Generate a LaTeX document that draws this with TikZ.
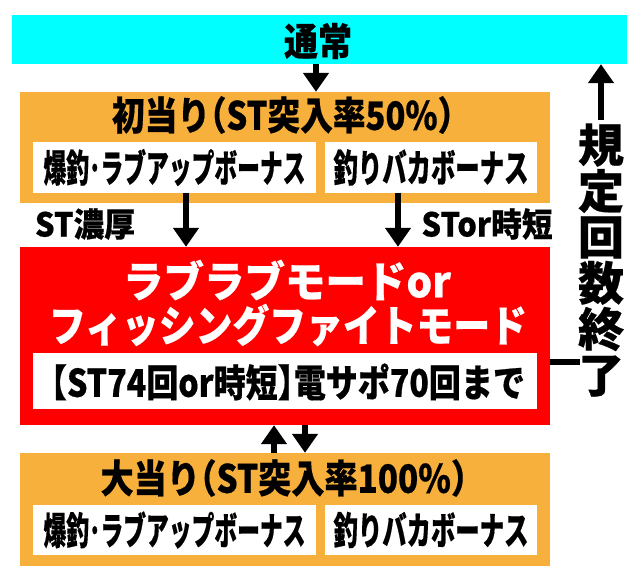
\documentclass[tikz,border=0pt]{standalone}
\usepackage{fontspec}
\setmainfont{Noto Sans CJK JP}[RawFeature=+halt, BoldFont={Noto Sans CJK JP Black}, BoldFeatures={FakeBold=0.5}]
\usetikzlibrary{arrows.meta}
\definecolor{cy}{HTML}{00FFFF}
\definecolor{org}{HTML}{F8B03C}
\definecolor{rd}{HTML}{FF0000}
\newcommand\fw[2]{\resizebox{#1}{\height}{#2}}
\newcommand\fs[1]{\fontsize{#1}{#1}\selectfont\bfseries}
\begin{document}
\begin{tikzpicture}[x=1pt,y=-1pt,
  blk/.style={rectangle, inner sep=0pt, draw=none},
  lbl/.style={inner sep=0pt, text=black},
  arr/.style={line width=6pt, -{Triangle[width=25pt,length=19pt]}}]
\useasboundingbox (0,0) rectangle (640,583);
\fill[white] (0,0) rectangle (640,583);
% boxes
\node[blk, fill=cy, minimum width=615pt, minimum height=49pt] (cyan) at (319.5,39.5) {};
\node[blk, fill=org, minimum width=530pt, minimum height=111pt] (o1) at (285,147.5) {};
\node[blk, fill=white, minimum width=283pt, minimum height=50pt] (w1a) at (174.5,167.5) {};
\node[blk, fill=white, minimum width=212pt, minimum height=50pt] (w1b) at (431,167.5) {};
\node[blk, fill=rd, minimum width=530pt, minimum height=178pt] (red) at (285,336) {};
\node[blk, fill=white, minimum width=504pt, minimum height=56pt] (win) at (285,381) {};
\node[blk, fill=org, minimum width=530pt, minimum height=113pt] (o2) at (285,509.5) {};
\node[blk, fill=white, minimum width=283pt, minimum height=50pt] (w2a) at (174.5,530) {};
\node[blk, fill=white, minimum width=212pt, minimum height=50pt] (w2b) at (431,530) {};
% texts
\node[lbl] (tn) at (318,41) {\fs{38}\fw{68pt}{通常}};
\node[lbl] (t1) at (283,115) {\fs{39}\fw{342pt}{初当り（ST突入率50\%）}};
\node[lbl] (t1a) at (w1a) {\fs{38}\fw{262pt}{爆釣･ラブアップボーナス}};
\node[lbl] (t1b) at (w1b) {\fs{38}\fw{195pt}{釣りバカボーナス}};
\node[lbl] (la) at (85,224) {\fs{33}\fw{100pt}{ST濃厚}};
\node[lbl] (lb) at (487,224) {\fs{33}\fw{131pt}{STor時短}};
\node[lbl, text=white] (r1) at (287,280) {\fs{43}\fw{328pt}{ラブラブモードor}};
\node[lbl, text=white] (r2) at (288,325) {\fs{43}\fw{478pt}{フィッシングファイトモード}};
\node[lbl] (tin) at (288,382) {\fs{38}\fw{474pt}{【ST74回or時短】電サポ70回まで}};
\node[lbl] (t2) at (284,478) {\fs{39}\fw{367pt}{大当り（ST突入率100\%）}};
\node[lbl] (t2a) at (w2a) {\fs{38}\fw{262pt}{爆釣･ラブアップボーナス}};
\node[lbl] (t2b) at (w2b) {\fs{38}\fw{195pt}{釣りバカボーナス}};
\node[lbl, align=center, font=\fs{46}] (vt) at (601,260) {規\\定\\回\\数\\終\\了};
% connectors
\draw[arr] ([xshift=-3.5pt]cyan.south) -- ([xshift=-3.5pt]cyan.south |- o1.north);
\draw[arr] ([xshift=11.5pt]w1a.south) -- ([xshift=11.5pt]w1a.south |- red.north);
\draw[arr] ([xshift=-33pt]w1b.south) -- ([xshift=-33pt]w1b.south |- red.north);
\draw[arr] ([xshift=-11pt]o2.north) -- ([xshift=-11pt]o2.north |- red.south);
\draw[arr] ([xshift=20pt]red.south) -- ([xshift=20pt]red.south |- o2.north);
\draw[line width=6pt] ([yshift=-26pt]red.east) -- ++(30,0) coordinate (hl);
\draw[arr] ([yshift=3pt]vt.north) -- (vt.north |- cyan.south);
\end{tikzpicture}
\end{document}
